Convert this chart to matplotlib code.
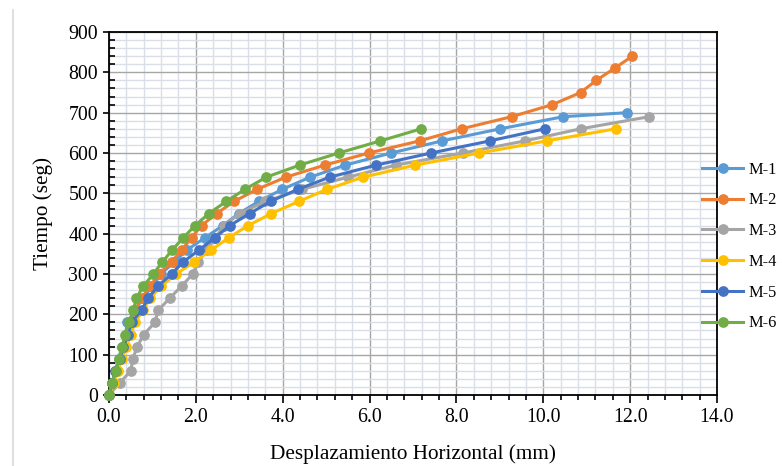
import numpy as np
import matplotlib
matplotlib.use("Agg")
import matplotlib.pyplot as plt
from matplotlib.lines import Line2D
from matplotlib.ticker import MultipleLocator, FormatStrFormatter

plt.rcParams['font.family'] = ['Liberation Serif', 'DejaVu Serif']

# tiempo (seg) cada 30 s
t_660 = list(range(0, 661, 30))
t_m1 = t_660 + [690, 700]
t_m2 = list(range(0, 841, 30))
t_m3 = list(range(0, 691, 30))

# desplazamiento horizontal (mm)
m1 = [0, 0.07, 0.15, 0.22, 0.30, 0.38, 0.42, 0.60, 0.78, 1.00, 1.20, 1.50, 1.80,
      2.21, 2.62, 2.99, 3.45, 3.99, 4.63, 5.44, 6.50, 7.67, 9.01, 10.46, 11.93]
m2 = [0, 0.10, 0.17, 0.25, 0.33, 0.40, 0.50, 0.60, 0.75, 0.95, 1.15, 1.44, 1.68,
      1.90, 2.13, 2.48, 2.88, 3.41, 4.07, 4.97, 5.98, 7.15, 8.12, 9.27, 10.21,
      10.86, 11.22, 11.64, 12.05]
m3 = [0, 0.25, 0.50, 0.55, 0.65, 0.80, 1.06, 1.13, 1.40, 1.67, 1.93, 2.05, 2.25,
      2.45, 2.65, 3.01, 3.60, 4.45, 5.50, 6.60, 8.15, 9.58, 10.86, 12.44]
m4 = [0, 0.12, 0.20, 0.30, 0.40, 0.50, 0.60, 0.78, 0.95, 1.20, 1.55, 1.96, 2.36,
      2.76, 3.20, 3.74, 4.37, 5.02, 5.85, 7.05, 8.53, 10.08, 11.67]
m5 = [0, 0.08, 0.14, 0.25, 0.33, 0.44, 0.52, 0.75, 0.90, 1.13, 1.44, 1.71, 2.08,
      2.44, 2.78, 3.24, 3.72, 4.35, 5.08, 6.15, 7.42, 8.77, 10.04]
m6 = [0, 0.06, 0.16, 0.23, 0.31, 0.37, 0.47, 0.56, 0.63, 0.79, 1.02, 1.23, 1.46,
      1.71, 1.98, 2.30, 2.70, 3.13, 3.62, 4.39, 5.29, 6.25, 7.19]

series = [
    ('M-1', m1, t_m1, '#5B9BD5'),
    ('M-2', m2, t_m2, '#ED7D31'),
    ('M-3', m3, t_m3, '#A5A5A5'),
    ('M-4', m4, t_660, '#FFC000'),
    ('M-5', m5, t_660, '#4472C4'),
    ('M-6', m6, t_660, '#70AD47'),
]

W, H = 782, 466
fig = plt.figure(figsize=(W / 100, H / 100), dpi=100)
ax = fig.add_axes([109 / W, 1 - 395 / H, (717 - 109) / W, (395 - 32) / H])

for name, x, t, col in series:
    ax.plot(x, t, '-o', color=col, lw=2.2, ms=6.7, label=name, clip_on=False, zorder=3)

ax.set_xlim(0, 14)
ax.set_ylim(0, 900)
ax.xaxis.set_major_locator(MultipleLocator(2))
ax.xaxis.set_minor_locator(MultipleLocator(0.4))
ax.yaxis.set_major_locator(MultipleLocator(100))
ax.yaxis.set_minor_locator(MultipleLocator(20))
ax.xaxis.set_major_formatter(FormatStrFormatter('%.1f'))

ax.grid(which='major', color='#a6a6a6', lw=1.0, zorder=1)
ax.grid(which='minor', color='#d9dee8', lw=1.0, zorder=0)
ax.set_axisbelow(True)

for s in ax.spines.values():
    s.set_color('black')
    s.set_linewidth(1.3)

ax.tick_params(axis='both', which='major', labelsize=14.3, width=1.2)
ax.tick_params(axis='x', which='major', direction='out', length=6)
ax.tick_params(axis='x', which='minor', direction='out', length=3.5, width=1.2)
ax.tick_params(axis='y', which='major', direction='out', length=4.5)
ax.tick_params(axis='y', which='minor', direction='in', length=4, width=1.2)

ax.set_xlabel('Desplazamiento Horizontal (mm)', fontsize=15.3, labelpad=12)
ax.set_ylabel('Tiempo (seg)', fontsize=15.3, labelpad=11)

ax.legend(loc='center left', bbox_to_anchor=(694 / W, 1 - 246.5 / H),
          bbox_transform=fig.transFigure, frameon=False, fontsize=11.8,
          borderpad=0, handlelength=2.5, handletextpad=0.3, labelspacing=0.9)

# borde izquierdo del area del grafico
fig.add_artist(Line2D([13 / W, 13 / W], [0, 1 - 10 / H], color='#d9d9d9', lw=1.2))

fig.savefig('out.png', dpi=100)
